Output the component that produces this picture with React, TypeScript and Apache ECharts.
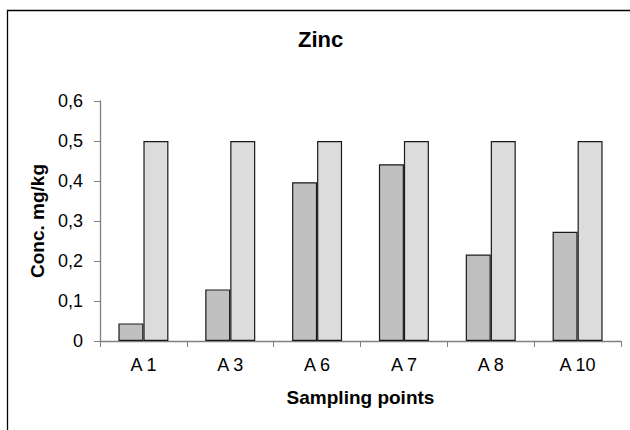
import React, { useEffect, useRef } from "react";
import * as echarts from "echarts";

const categories = ["A 1", "A 3", "A 6", "A 7", "A 8", "A 10"];
const measured = [0.044, 0.129, 0.397, 0.442, 0.216, 0.273];
const limit = [0.5, 0.5, 0.5, 0.5, 0.5, 0.5];
const yTicks = { min: 0, max: 0.6, interval: 0.1 };

const FONT = "Liberation Sans, Arial, sans-serif";

export default function App() {
  const ref = useRef<HTMLDivElement>(null);
  useEffect(() => {
    if (!ref.current) return;
    const chart = echarts.init(ref.current, undefined, { renderer: "svg" });
    chart.setOption({
      animation: false,
      backgroundColor: "#ffffff",
      title: {
        text: "Zinc",
        left: 293,
        top: 23,
        textStyle: { fontFamily: FONT, fontSize: 22, fontWeight: "bold", color: "#000" },
      },
      graphic: [
        {
          type: "rect",
          shape: { x: 7.5, y: 10.5, width: 700, height: 500 },
          style: { fill: "none", stroke: "#000", lineWidth: 1.3 },
          silent: true,
          z: 100,
        },
      ],
      grid: { left: 100, top: 101, right: 9, bottom: 89, containLabel: false },
      xAxis: {
        type: "category",
        data: categories,
        name: "Sampling points",
        nameLocation: "middle",
        nameGap: 47,
        nameTextStyle: { fontFamily: FONT, fontSize: 19, fontWeight: "bold", color: "#000" },
        axisLine: { lineStyle: { color: "#808080", width: 1.3 } },
        axisTick: { show: true, length: 6, inside: false, lineStyle: { color: "#808080" } },
        axisLabel: { fontFamily: FONT, fontSize: 18, color: "#000", margin: 15 },
        splitLine: { show: false },
      },
      yAxis: {
        type: "value",
        min: yTicks.min,
        max: yTicks.max,
        interval: yTicks.interval,
        name: "Conc. mg/kg",
        nameLocation: "middle",
        nameRotate: 90,
        nameGap: 51,
        nameTextStyle: { fontFamily: FONT, fontSize: 19, fontWeight: "bold", color: "#000" },
        axisLine: { show: true, lineStyle: { color: "#808080", width: 1.3 } },
        axisTick: { show: true, length: 6, lineStyle: { color: "#808080" } },
        axisLabel: {
          fontFamily: FONT,
          fontSize: 18,
          color: "#000",
          margin: 17,
          formatter: (v: number) => (v === 0 ? "0" : v.toFixed(1).replace(".", ",")),
        },
        splitLine: { show: false },
      },
      series: [
        {
          type: "bar",
          data: measured,
          barWidth: 25,
          barGap: "0%",
          itemStyle: { color: "#c0c0c0", borderColor: "#1a1a1a", borderWidth: 1.2 },
        },
        {
          type: "bar",
          data: limit,
          barWidth: 25,
          barGap: "0%",
          itemStyle: { color: "#dcdcdc", borderColor: "#1a1a1a", borderWidth: 1.2 },
        },
      ],
    });
    return () => chart.dispose();
  }, []);
  return (
    <div
      ref={ref}
      style={{ position: "absolute", left: 0, top: 0, width: 630, height: 430 }}
    />
  );
}
